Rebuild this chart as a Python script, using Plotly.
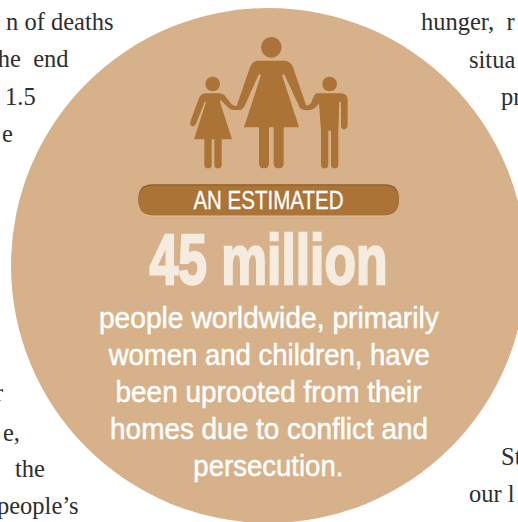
import json
import re
import plotly.graph_objects as go

# Text content
BADGE_TEXT = "AN ESTIMATED"
HEADLINE_TEXT = "45 million"
BODY_LINES = [
    "people worldwide, primarily",
    "women and children, have",
    "been uprooted from their",
    "homes due to conflict and",
    "persecution.",
]
LEFT_COLUMN = [
    ("n of deaths", 116, 21.5), ("the\u00a0\u00a0end", 70.5, 58.5), ("1.5", 37.5, 96), ("e", 14.5, 133.5),
    ("r", 5, 392), ("e,", 21.5, 432), ("the", 46.5, 468), ("people\u2019s", 80.5, 505),
]
RIGHT_COLUMN = [
    ("hunger,\u00a0\u00a0r", 419, 21.5), ("situa", 467, 59), ("pr", 499, 96),
    ("St", 499, 456), ("our l", 467, 493), ("that the", 430, 531),
]

TAN = "#d7b189"
BROWN = "#ab7336"
DARK = "#8c5c2a"
CREAM = "#f5ebdf"
INK = "#2e2e2e"


def icon(path):
    """Map pictogram outline from its drawing grid to the page."""
    def conv(m):
        return f"{float(m.group(1)) / 3 + 170:.2f},{float(m.group(2)) / 3 + 20:.2f}"
    return re.sub(r"(-?[\d.]+),(-?[\d.]+)", conv, path)


def leg(x0, x1, y0, y1):
    r = (x1 - x0) / 2
    return (f"M{x0},{y0} L{x1},{y0} L{x1},{y1 - r} Q{x1},{y1} {x0 + r},{y1} "
            f"Q{x0},{y1} {x0},{y1 - r} Z")


ICON_PATHS = [
    # woman
    "M262,122 L346,122 Q362,124 369,142 L407,252 Q411,268 398,268 Q390,268 386,256 L345,168 "
    "Q339,156 337,168 L387,322 L222,322 L272,168 Q270,156 264,168 L225,256 Q219,268 211,268 "
    "Q198,268 202,252 L240,142 Q247,124 262,122 Z",
    leg(267, 297, 320, 445), leg(311, 341, 320, 445),
    # girl
    "M105,220 L150,220 Q162,221 168,232 L184,252 Q190,258 200,258 L212,258 Q220,264 212,270 "
    "L192,270 Q180,270 172,260 L152,240 Q150,240 150,246 L186,358 L72,358 L108,246 Q108,240 103,248 "
    "L78,312 Q70,324 62,316 Q58,310 62,302 L88,232 Q94,221 105,220 Z",
    leg(103, 125, 356, 445), leg(133, 155, 356, 445),
    # boy
    "M440,220 L515,220 Q532,222 533,238 L533,315 Q532,328 522,328 Q513,328 513,315 L513,245 "
    "L508,245 L505,332 L453,332 L447,250 Q440,262 428,268 Q418,272 405,270 Q392,268 395,260 "
    "Q400,255 412,256 Q420,256 425,245 Q432,222 440,220 Z",
    leg(453, 475, 330, 445), leg(483, 505, 330, 445),
]
HEADS = [(304, 82, 31), (128, 192, 22), (479, 192, 22)]

shapes = [dict(type="circle", xref="x", yref="y", x0=11, x1=526, y0=8, y1=523,
               fillcolor=TAN, line_width=0, layer="below")]
for p in ICON_PATHS:
    shapes.append(dict(type="path", xref="x", yref="y", path=icon(p), fillcolor=BROWN, line_width=0))
for cx, cy, r in HEADS:
    x, y, rr = cx / 3 + 170, cy / 3 + 20, r / 3
    shapes.append(dict(type="circle", xref="x", yref="y", x0=x - rr, x1=x + rr, y0=y - rr, y1=y + rr,
                       fillcolor=BROWN, line_width=0))


def pill(x0, x1, y0, y1, col):
    r = (y1 - y0) / 2
    return dict(type="path", xref="x", yref="y", fillcolor=col, line_width=0,
                path=f"M{x0 + r},{y0} L{x1 - r},{y0} Q{x1},{y0} {x1},{y0 + r} Q{x1},{y1} {x1 - r},{y1} "
                     f"L{x0 + r},{y1} Q{x0},{y1} {x0},{y0 + r} Q{x0},{y0} {x0 + r},{y0} Z")


shapes.append(pill(138.3, 399, 186.5, 216.5, "#e0c3a1"))
shapes.append(pill(138.3, 399, 184.3, 213, DARK))
shapes.append(pill(138.3, 399, 185.5, 215.5, BROWN))

SANS = "Liberation Sans, sans-serif"
SERIF = "Liberation Serif, serif"
ann = []


def text(s, x, y, size, color, family, anchor="center", bold=False):
    ann.append(dict(text=f"<b>{s}</b>" if bold else s, x=x, y=y, xref="x", yref="y",
                    xanchor=anchor, yanchor="middle", showarrow=False, align=anchor,
                    font=dict(size=size, color=color, family=family)))


text(BADGE_TEXT, 268.5, 199.5, 25, "white", SANS)
text(HEADLINE_TEXT, 268.5, 259.5, 70, CREAM, SANS, bold=True)
for s, y in zip(BODY_LINES, [317, 354, 391, 428, 465]):
    text(s, 268.5, y, 29.5, "white", SANS)
for s, x, y in LEFT_COLUMN:
    text(s, x, y, 24.5, INK, SERIF, "right")
for s, x, y in RIGHT_COLUMN:
    text(s, x, y, 24.5, INK, SERIF, "left")

# The lettering in the picture is condensed; no condensed face is installed,
# so the real text is fitted to the measured line widths in the page.
FIT = {
    BADGE_TEXT: (150, 0.3),
    HEADLINE_TEXT: (238, 2.4),
    BODY_LINES[0]: (340, 0.5),
    BODY_LINES[1]: (321, 0.5),
    BODY_LINES[2]: (306, 0.5),
    BODY_LINES[3]: (318, 0.5),
    BODY_LINES[4]: (150, 0.5),
}
POST = """
document.body.style.margin = '0';
var fit = %s;
document.querySelectorAll('.annotation-text').forEach(function (t) {
  var f = fit[t.textContent];
  if (!f) return;
  t.setAttribute('textLength', f[0]);
  t.setAttribute('lengthAdjust', 'spacingAndGlyphs');
  if (f[1]) { t.style.stroke = t.style.fill; t.style.strokeWidth = f[1] + 'px'; }
});
""" % json.dumps(FIT)

fig = go.Figure()
fig.update_layout(
    width=518, height=522, margin=dict(l=0, r=0, t=0, b=0),
    paper_bgcolor="white", plot_bgcolor="white", showlegend=False,
    xaxis=dict(range=[0, 518], visible=False, fixedrange=True),
    yaxis=dict(range=[522, 0], visible=False, fixedrange=True),
    shapes=shapes, annotations=ann,
)
fig.write_html("out.html", config=dict(displayModeBar=False), post_script=POST)
